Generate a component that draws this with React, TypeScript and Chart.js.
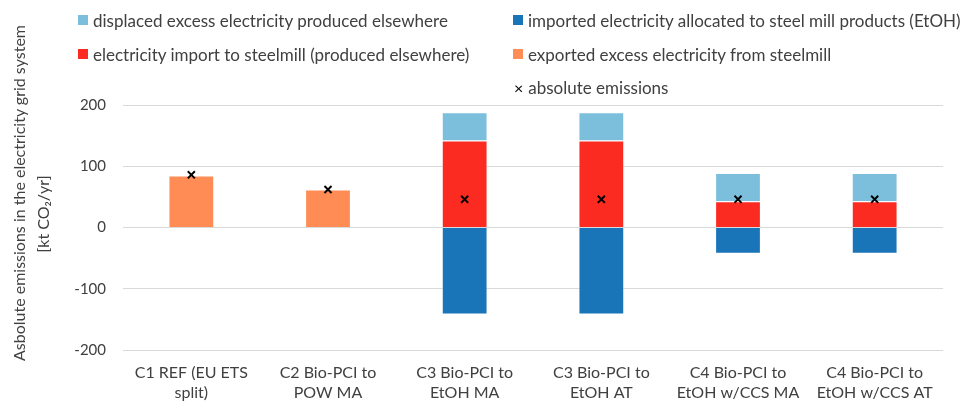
import React, { useEffect, useRef } from "react";
import { Chart, registerables } from "chart.js";

Chart.register(...registerables);

const categories: string[][] = [
  ["C1 REF (EU ETS", "split)"],
  ["C2 Bio-PCI to", "POW MA"],
  ["C3 Bio-PCI to", "EtOH MA"],
  ["C3 Bio-PCI to", "EtOH AT"],
  ["C4 Bio-PCI to", "EtOH w/CCS MA"],
  ["C4 Bio-PCI to", "EtOH w/CCS AT"],
];

const exportedExcess = [85, 62, 0, 0, 0, 0];
const importToSteelmill = [0, 0, 142, 142, 43, 43];
const displacedExcess = [0, 0, 46, 46, 46, 46];
const importedAllocated = [0, 0, -142, -142, -43, -43];
const absoluteEmissions = [86, 62, 46, 46, 46, 46];

const yTicks = [-200, -100, 0, 100, 200];

const yTitleLines = ["Asbolute emissions in the electricity grid system", "[kt CO\u2082/yr]"];

const FONT = "Lato, 'Open Sans', sans-serif";
const TEXT = "#404040";

const legendItems = [
  { label: "displaced excess electricity produced elsewhere", color: "#7BBFDC", x: 78, y: 20 },
  { label: "imported electricity allocated to steel mill products (EtOH)", color: "#1A75B8", x: 513, y: 20 },
  { label: "electricity import to steelmill (produced elsewhere)", color: "#FB2B22", x: 78, y: 54 },
  { label: "exported excess electricity from steelmill", color: "#FF8C55", x: 513, y: 54 },
];

export default function App() {
  const ref = useRef<HTMLCanvasElement | null>(null);

  useEffect(() => {
    document.body.style.margin = "0";
    const ctx = ref.current!;
    const barBorder = "rgba(255,255,255,0.45)";
    const chart = new Chart(ctx, {
      type: "bar",
      data: {
        labels: categories as any,
        datasets: [
          {
            label: "exported excess electricity from steelmill",
            data: exportedExcess,
            backgroundColor: "#FF8C55",
            borderColor: barBorder,
            borderWidth: 1,
            stack: "s",
          },
          {
            label: "electricity import to steelmill (produced elsewhere)",
            data: importToSteelmill,
            backgroundColor: "#FB2B22",
            borderColor: barBorder,
            borderWidth: 1,
            stack: "s",
          },
          {
            label: "displaced excess electricity produced elsewhere",
            data: displacedExcess,
            backgroundColor: "#7BBFDC",
            borderColor: barBorder,
            borderWidth: 1,
            stack: "s",
          },
          {
            label: "imported electricity allocated to steel mill products (EtOH)",
            data: importedAllocated,
            backgroundColor: "#1A75B8",
            borderColor: barBorder,
            borderWidth: 1,
            stack: "s",
          },
          {
            type: "line" as any,
            label: "absolute emissions",
            data: absoluteEmissions,
            showLine: false,
            pointStyle: "crossRot",
            pointRadius: 5,
            pointBorderWidth: 2,
            borderColor: "#000",
            backgroundColor: "#000",
            stack: "abs",
            order: -1,
          } as any,
        ],
      },
      options: {
        animation: false,
        responsive: false,
        maintainAspectRatio: false,
        layout: { padding: { left: 2, top: 105, right: 20, bottom: 0 } },
        plugins: { legend: { display: false }, tooltip: { enabled: false } },
        datasets: { bar: { categoryPercentage: 1, barPercentage: 0.335 } } as any,
        scales: {
          x: {
            stacked: true,
            grid: { display: false, drawTicks: false },
            border: { display: false },
            ticks: {
              color: TEXT,
              font: { family: FONT, size: 16, lineHeight: 1.3 },
              padding: 12,
              maxRotation: 0,
              autoSkip: false,
            },
            afterFit: (s: any) => {
              s.height = 56;
            },
          },
          y: {
            stacked: true,
            min: -200,
            max: 200,
            afterBuildTicks: (s: any) => {
              s.ticks = yTicks.map((v) => ({ value: v }));
            },
            grid: { color: "#D9D9D9", lineWidth: 1, drawTicks: false },
            border: { display: false },
            ticks: {
              color: TEXT,
              font: { family: FONT, size: 15 },
              padding: 17,
            },
            afterFit: (s: any) => {
              s.width = 121;
            },
          },
        },
      },
    });
    return () => chart.destroy();
  }, []);

  const titleW = 420;
  const titleCenters = [
    { x: 19, y: 193 },
    { x: 43, y: 214 },
  ];

  return (
    <div style={{ position: "relative", width: 963, height: 406, fontFamily: FONT, overflow: "hidden" }}>
      <canvas ref={ref} width={963} height={406} style={{ position: "absolute", left: 0, top: 0 }} />
      {yTitleLines.map((t, i) => (
        <div
          key={t}
          style={{
            position: "absolute",
            left: titleCenters[i].x - titleW / 2,
            top: titleCenters[i].y - 10,
            width: titleW,
            height: 20,
            lineHeight: "20px",
            textAlign: "center",
            fontSize: 16,
            color: TEXT,
            whiteSpace: "nowrap",
            transform: "rotate(-90deg)",
            transformOrigin: "50% 50%",
          }}
        >
          {t}
        </div>
      ))}
      {legendItems.map((it) => (
        <div
          key={it.label}
          style={{
            position: "absolute",
            left: it.x,
            top: it.y - 11,
            height: 22,
            display: "flex",
            alignItems: "center",
            whiteSpace: "nowrap",
            fontSize: 17,
            color: TEXT,
          }}
        >
          <span style={{ display: "inline-block", width: 10, height: 10, background: it.color, marginRight: 5 }} />
          {it.label}
        </div>
      ))}
      <div
        style={{
          position: "absolute",
          left: 514,
          top: 87 - 11,
          height: 22,
          display: "flex",
          alignItems: "center",
          whiteSpace: "nowrap",
          fontSize: 17,
          color: TEXT,
        }}
      >
        <span style={{ fontSize: 16, marginRight: 5, color: "#000" }}>{"\u00d7"}</span>
        absolute emissions
      </div>
    </div>
  );
}
